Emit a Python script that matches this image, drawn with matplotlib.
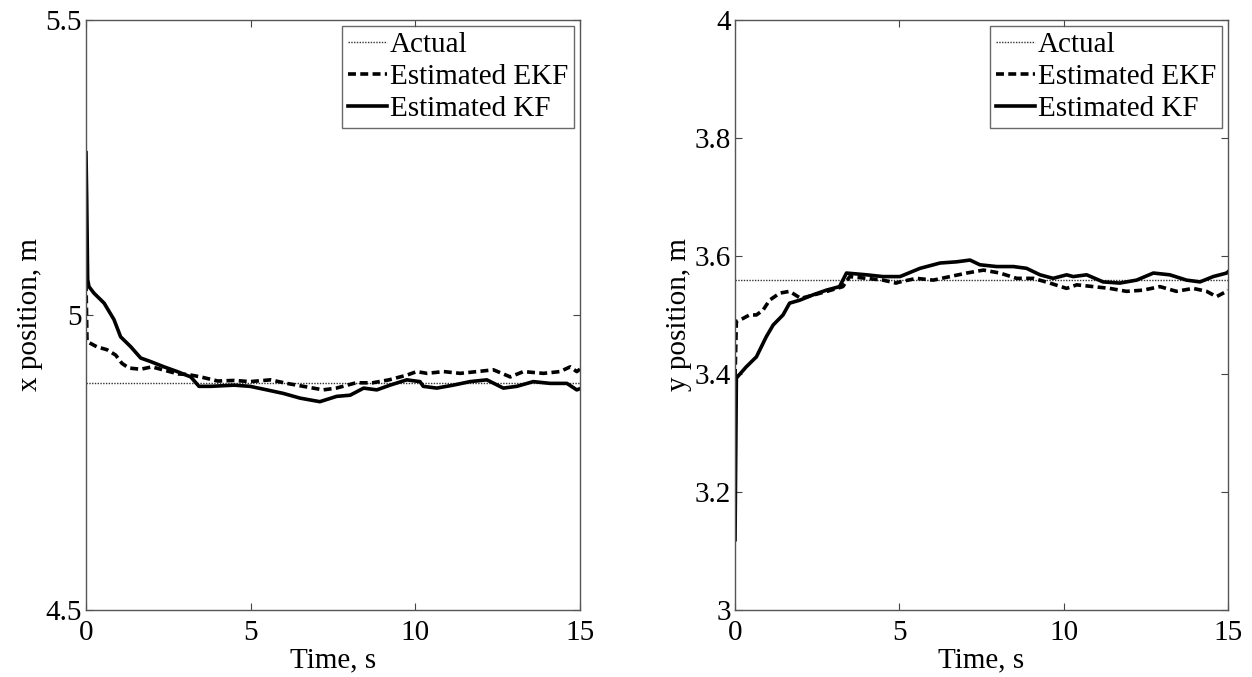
import matplotlib
matplotlib.use("Agg")
import matplotlib.pyplot as plt
from matplotlib.ticker import FuncFormatter

# ---- data ----
t_end = 15.0
actual_x = 4.885
actual_y = 3.559

# x position, Kalman filter
kf_x_t = [0.0, 0.02, 0.05, 0.09, 0.24, 0.55, 0.85, 1.05, 1.36, 1.66, 1.96, 2.37, 2.77,
          3.18, 3.43, 3.79, 4.5, 4.98, 5.49, 5.99, 6.5, 7.1, 7.61, 8.02, 8.43, 8.83,
          9.23, 9.74, 10.14, 10.24, 10.65, 11.15, 11.66, 12.17, 12.67, 13.08, 13.58,
          14.09, 14.6, 14.9, 15.0]
kf_x = [5.275, 5.20, 5.06, 5.048, 5.037, 5.020, 4.992, 4.963, 4.946, 4.927, 4.921, 4.912,
        4.904, 4.895, 4.879, 4.879, 4.881, 4.879, 4.873, 4.867, 4.859, 4.853, 4.862, 4.864,
        4.876, 4.873, 4.881, 4.890, 4.887, 4.879, 4.876, 4.881, 4.887, 4.890, 4.876,
        4.879, 4.887, 4.884, 4.884, 4.873, 4.875]

# x position, extended Kalman filter
ekf_x_t = [0.0, 0.03, 0.33, 0.64, 0.9, 1.09, 1.3, 1.66, 2.0, 2.4, 2.8, 3.1, 3.48, 4.0,
           4.5, 4.98, 5.6, 6.1, 6.6, 7.2, 7.6, 8.2, 8.7, 9.2, 9.74, 10.04, 10.35, 10.86,
           11.36, 11.87, 12.37, 12.88, 13.28, 13.89, 14.39, 14.7, 14.9, 15.0]
ekf_x = [5.054, 4.955, 4.946, 4.941, 4.932, 4.918, 4.910, 4.908, 4.912, 4.906, 4.900,
         4.899, 4.895, 4.888, 4.889, 4.887, 4.890, 4.884, 4.879, 4.873, 4.876, 4.885,
         4.885, 4.890, 4.898, 4.904, 4.901, 4.904, 4.901, 4.904, 4.907, 4.895, 4.904,
         4.901, 4.904, 4.912, 4.904, 4.908]

# y position, Kalman filter
kf_y_t = [0.0, 0.04, 0.34, 0.65, 0.95, 1.16, 1.46, 1.66, 1.97, 2.37, 2.78, 3.18, 3.39,
          4.0, 4.5, 5.02, 5.63, 6.24, 6.74, 7.15, 7.45, 7.96, 8.47, 8.87, 9.28, 9.68,
          10.09, 10.29, 10.7, 11.2, 11.71, 12.22, 12.73, 13.23, 13.74, 14.15, 14.55,
          14.96, 15.0]
kf_y = [3.119, 3.393, 3.412, 3.429, 3.463, 3.483, 3.500, 3.520, 3.525, 3.534, 3.542,
        3.548, 3.571, 3.568, 3.565, 3.565, 3.579, 3.588, 3.590, 3.593, 3.585, 3.582,
        3.582, 3.579, 3.568, 3.562, 3.568, 3.565, 3.568, 3.556, 3.554, 3.559, 3.571,
        3.568, 3.559, 3.556, 3.565, 3.571, 3.573]

# y position, extended Kalman filter
ekf_y_t = [0.0, 0.04, 0.24, 0.44, 0.65, 0.85, 1.05, 1.36, 1.66, 2.0, 2.4, 2.8, 3.28,
           3.49, 4.0, 4.5, 4.9, 5.02, 5.52, 6.03, 6.54, 7.05, 7.56, 8.06, 8.57, 9.08,
           9.58, 10.09, 10.4, 10.9, 11.4, 11.91, 12.42, 12.93, 13.43, 13.94, 14.35,
           14.65, 14.96, 15.0]
ekf_y = [3.395, 3.489, 3.494, 3.500, 3.500, 3.508, 3.525, 3.537, 3.540, 3.528, 3.534,
         3.540, 3.548, 3.565, 3.562, 3.559, 3.554, 3.556, 3.562, 3.559, 3.565, 3.571,
         3.576, 3.571, 3.562, 3.562, 3.554, 3.545, 3.551, 3.548, 3.545, 3.540, 3.542,
         3.548, 3.540, 3.545, 3.540, 3.531, 3.540, 3.542]

plt.rcParams["font.family"] = ["Liberation Serif", "DejaVu Serif"]

fig = plt.figure(figsize=(12.52, 6.77), dpi=100)
ax1 = fig.add_axes([0.0687, 0.099, 0.3946, 0.8716])
ax2 = fig.add_axes([0.5871, 0.099, 0.3937, 0.8716])

panels = [
    (ax1, kf_x_t, kf_x, ekf_x_t, ekf_x, actual_x, (4.5, 5.5), [4.5, 5.0, 5.5], "x position, m"),
    (ax2, kf_y_t, kf_y, ekf_y_t, ekf_y, actual_y, (3.0, 4.0),
     [3.0, 3.2, 3.4, 3.6, 3.8, 4.0], "y position, m"),
]

fs = 21

for ax, kt, kv, et, ev, act, ylim, yticks, ylabel in panels:
    ax.plot([0, t_end], [act, act], color="#333333", lw=1.0, ls=(0, (1, 1)), label="Actual")
    ax.plot(et, ev, color="black", lw=2.6, ls=(0, (2.2, 1.2)), label="Estimated EKF")
    ax.plot(kt, kv, color="black", lw=2.6, label="Estimated KF")
    ax.set_xlim(0, t_end)
    ax.set_ylim(*ylim)
    ax.set_xticks([0, 5, 10, 15])
    ax.set_yticks(yticks)
    ax.yaxis.set_major_formatter(FuncFormatter(lambda v, p: f"{v:g}"))
    ax.tick_params(direction="in", top=True, right=True, length=5, width=0.8,
                   color="#444444", labelsize=fs)
    ax.tick_params(axis="x", pad=7)
    ax.tick_params(axis="y", pad=3)
    for s in ax.spines.values():
        s.set_color("#555555")
        s.set_linewidth(1.0)
    ax.set_xlabel("Time, s", fontsize=fs, labelpad=1)
    ax.set_ylabel(ylabel, fontsize=fs, labelpad=2)
    leg = ax.legend(loc="upper right", fontsize=fs, frameon=True, fancybox=False,
                    edgecolor="#444444", handlelength=1.35, handletextpad=0.1,
                    borderpad=0.2, labelspacing=0.2, borderaxespad=0.2)
    leg.get_frame().set_linewidth(1.0)

fig.savefig("out.png", dpi=100)
